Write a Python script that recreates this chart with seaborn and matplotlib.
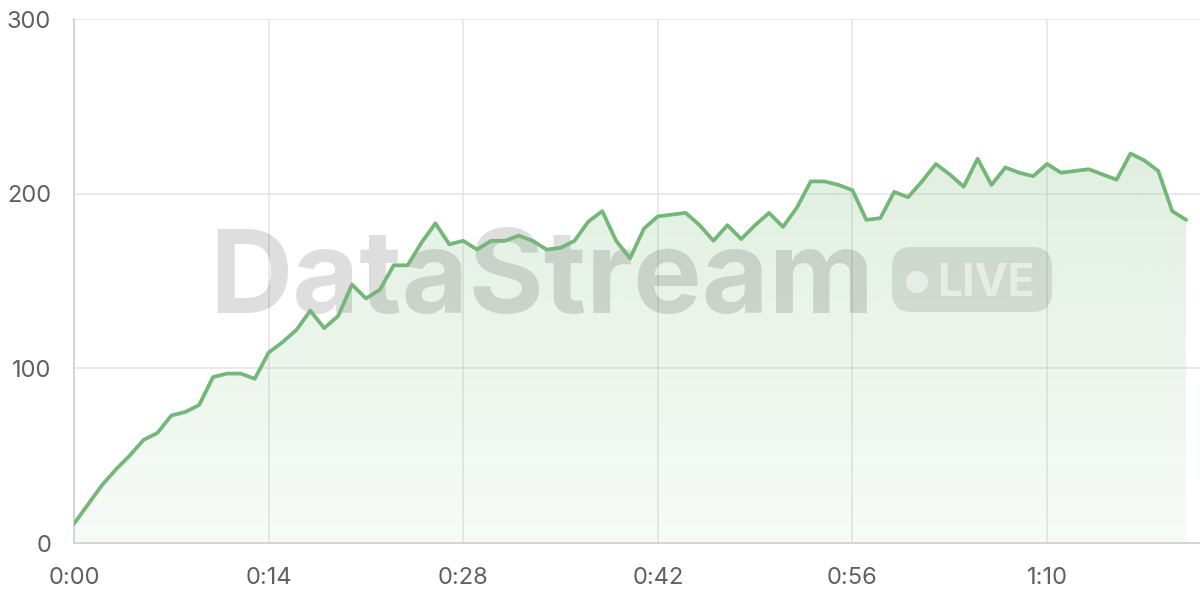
import numpy as np
import pandas as pd
import matplotlib
matplotlib.use("Agg")
import matplotlib.pyplot as plt
from matplotlib.patches import FancyBboxPatch, Circle, Polygon
from matplotlib.transforms import IdentityTransform
from matplotlib.ticker import FuncFormatter
import seaborn as sns

# seconds since start and the streamed value at each second
seconds = list(range(0, 81))
values = [11, 22, 33, 42, 50, 59, 63, 73, 75, 79,
          95, 97, 97, 94, 109, 115, 122, 133, 123, 130,
          148, 140, 145, 159, 159, 172, 183, 171, 173, 168,
          173, 173, 176, 173, 168, 169, 173, 184, 190, 173,
          163, 180, 187, 188, 189, 182, 173, 182, 174, 182,
          189, 181, 192, 207, 207, 205, 202, 185, 186, 201,
          198, 207, 217, 211, 204, 220, 205, 215, 212, 210,
          217, 212, 213, 214, 211, 208, 223, 219, 213, 190,
          185]
x_ticks = [0, 14, 28, 42, 56, 70]
y_ticks = [0, 100, 200, 300]

df = pd.DataFrame({"t": seconds, "value": values})

line_color = "#72b876"
grid_color = "#e6e6e6"
spine_color = "#d2d2d2"
label_color = "#606060"

sns.set_style("white")
plt.rcParams["font.family"] = ["Inter", "DejaVu Sans"]

fig = plt.figure(figsize=(12, 6), dpi=100)
ax = fig.add_axes([74 / 1200, 57 / 600, 1 - 74 / 1200, (543 - 19) / 600])

# gradient fill under the line, clipped to the area polygon
grad = np.linspace(0.28, 0.05, 256).reshape(-1, 1)
rgb = matplotlib.colors.to_rgb(line_color)
img = np.zeros((256, 1, 4))
img[..., 0], img[..., 1], img[..., 2] = rgb
img[..., 3] = grad
im = ax.imshow(img, extent=(0, 81, 0, 300), origin="upper", aspect="auto", zorder=1)
poly_xy = [(seconds[0], 0)] + list(zip(seconds, values)) + [(seconds[-1], 0)]
clip = Polygon(poly_xy, closed=True, facecolor="none", edgecolor="none")
ax.add_patch(clip)
im.set_clip_path(clip)

sns.lineplot(data=df, x="t", y="value", ax=ax, color=line_color,
             linewidth=2.7, zorder=4)

ax.set_xlim(0, 81)
ax.set_ylim(0, 300)
ax.set_xticks(x_ticks)
ax.set_yticks(y_ticks)
ax.xaxis.set_major_formatter(FuncFormatter(lambda v, p: f"{int(v) // 60}:{int(v) % 60:02d}"))
ax.set_xlabel("")
ax.set_ylabel("")
ax.grid(True, color=grid_color, linewidth=1.2, zorder=0)
ax.set_axisbelow(True)
for side in ["top", "right"]:
    ax.spines[side].set_visible(False)
for side in ["left", "bottom"]:
    ax.spines[side].set_color(spine_color)
    ax.spines[side].set_linewidth(1.3)
ax.tick_params(axis="both", length=11.5, width=1.2, color=grid_color,
               labelsize=17, labelcolor=label_color)
ax.tick_params(axis="y", pad=5)
ax.tick_params(axis="x", pad=6)

# watermark
ident = IdentityTransform()
ax.text(209, 600 - 313, "DataStream", transform=ident, fontsize=83,
        fontweight="bold", color="black", alpha=0.13, ha="left", va="baseline",
        zorder=3, clip_on=False)
badge = FancyBboxPatch((892 + 20, 600 - 312 + 20), 160 - 40, 65 - 40,
                       boxstyle="round,pad=20", transform=ident,
                       facecolor="black", alpha=0.1, edgecolor="none",
                       zorder=3, clip_on=False)
ax.add_patch(badge)
ax.add_patch(Circle((917, 600 - 282), 11, transform=ident, facecolor="white",
                    alpha=0.5, edgecolor="none", zorder=3, clip_on=False))
ax.text(937, 600 - 296, "LIVE", transform=ident, fontsize=32,
        fontweight="bold", color="white", alpha=0.5, ha="left", va="baseline",
        zorder=3, clip_on=False)

fig.savefig("out.png", dpi=100)
